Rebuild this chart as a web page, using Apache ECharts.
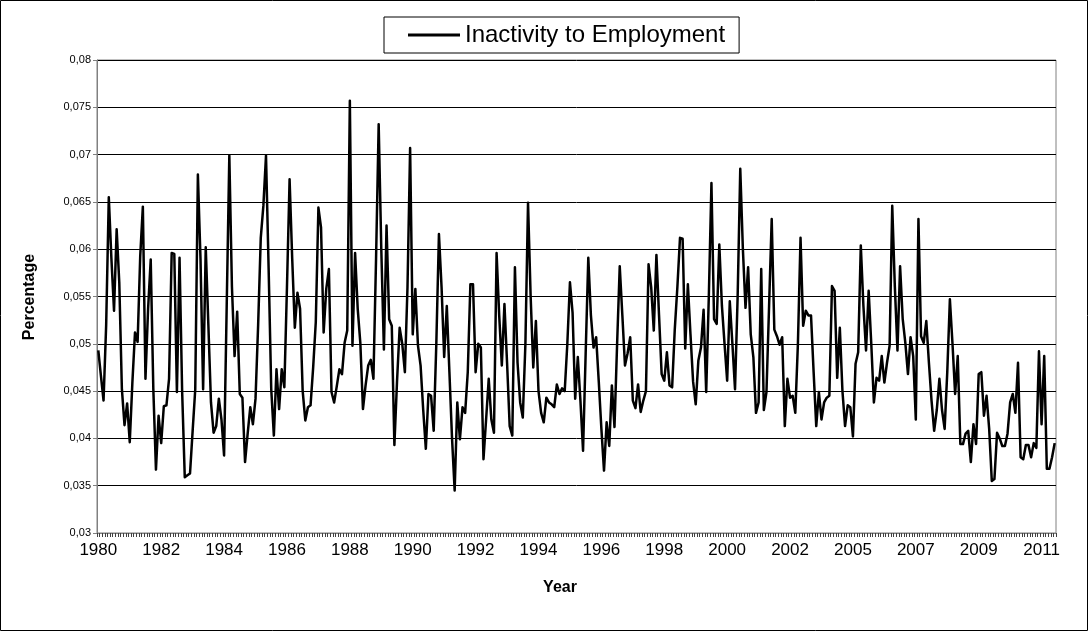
<!DOCTYPE html>
<html>
<head>
<meta charset="utf-8">
<title>Inactivity to Employment</title>
<script src="https://cdn.jsdelivr.net/npm/echarts@6/dist/echarts.min.js"></script>
<style>
  html, body { margin: 0; padding: 0; background: #fff; }
  #chart { width: 1091px; height: 633px; }
</style>
</head>
<body>
<div id="chart"></div>
<script>
// Year labels shown every 24 monthly observations
const tickLabels = ['1980', '1982', '1984', '1986', '1988', '1990', '1992', '1994',
  '1996', '1998', '2000', '2002', '2005', '2007', '2009', '2011'];
const labelStep = 24;

// Monthly transition rate from inactivity to employment
const inactivityToEmployment = [
  0.0493, 0.0466, 0.0440, 0.0520, 0.0655, 0.0590, 0.0535, 0.0621, 0.0565, 0.0452,
  0.0414, 0.0437, 0.0396, 0.0459, 0.0512, 0.0502, 0.0593, 0.0645, 0.0463, 0.0537,
  0.0589, 0.0452, 0.0367, 0.0424, 0.0395, 0.0434, 0.0435, 0.0463, 0.0596, 0.0595,
  0.0449, 0.0591, 0.0449, 0.0359, 0.0361, 0.0363, 0.0408, 0.0452,
  0.0679, 0.0590, 0.0452, 0.0602, 0.0520, 0.0438, 0.0406, 0.0413, 0.0442, 0.0420,
  0.0382, 0.0540, 0.0699, 0.0560, 0.0487, 0.0534, 0.0447, 0.0443, 0.0375, 0.0405,
  0.0433, 0.0415, 0.0442, 0.0520, 0.0612, 0.0646, 0.0699, 0.0580, 0.0452,
  0.0403, 0.0473, 0.0431, 0.0473, 0.0454, 0.0560, 0.0674, 0.0590, 0.0517, 0.0554,
  0.0537, 0.0450, 0.0419, 0.0433, 0.0435, 0.0475, 0.0523, 0.0644, 0.0623, 0.0512,
  0.0558, 0.0579, 0.0449, 0.0438, 0.0455, 0.0473, 0.0468, 0.0501, 0.0514, 0.0757,
  0.0498, 0.0596, 0.0537, 0.0501, 0.0431, 0.0456, 0.0477,
  0.0483, 0.0463, 0.0590, 0.0732, 0.0600, 0.0494, 0.0625, 0.0526, 0.0519, 0.0393,
  0.0460, 0.0517, 0.0500, 0.0470, 0.0560, 0.0707, 0.0510, 0.0558, 0.0498, 0.0477,
  0.0430, 0.0389, 0.0447, 0.0445, 0.0408, 0.0500, 0.0616, 0.0560, 0.0486, 0.0540,
  0.0470, 0.0400, 0.0345,
  0.0438, 0.0399, 0.0433, 0.0427, 0.0470, 0.0563, 0.0563, 0.0470, 0.0500, 0.0496,
  0.0378, 0.0420, 0.0463, 0.0420, 0.0406, 0.0596, 0.0530, 0.0477, 0.0542, 0.0480,
  0.0413, 0.0403, 0.0581, 0.0480, 0.0438, 0.0422, 0.0500, 0.0649, 0.0550, 0.0475,
  0.0524, 0.0450, 0.0427, 0.0417, 0.0443,
  0.0438, 0.0436, 0.0433, 0.0457, 0.0447, 0.0453, 0.0450, 0.0500, 0.0565, 0.0533,
  0.0442, 0.0486, 0.0440, 0.0387, 0.0490, 0.0591, 0.0530, 0.0496, 0.0507, 0.0460,
  0.0410, 0.0366, 0.0417, 0.0392, 0.0456, 0.0412, 0.0500, 0.0582, 0.0530, 0.0477,
  0.0490, 0.0507, 0.0440, 0.0432, 0.0457,
  0.0428, 0.0440, 0.0450, 0.0584, 0.0560, 0.0514, 0.0594, 0.0530, 0.0468, 0.0461,
  0.0491, 0.0456, 0.0454, 0.0515, 0.0560, 0.0612, 0.0611, 0.0495, 0.0563, 0.0510,
  0.0460, 0.0436, 0.0482, 0.0496, 0.0536, 0.0449, 0.0550, 0.0670, 0.0526, 0.0521,
  0.0605, 0.0540, 0.0500,
  0.0461, 0.0545, 0.0500, 0.0452, 0.0550, 0.0685, 0.0600, 0.0538, 0.0581, 0.0510,
  0.0486, 0.0427, 0.0438, 0.0579, 0.0430, 0.0449, 0.0540,
  0.0632, 0.0515, 0.0508, 0.0499, 0.0507, 0.0413, 0.0463, 0.0443, 0.0445, 0.0427,
  0.0500, 0.0612, 0.0519, 0.0535, 0.0530, 0.0530, 0.0470, 0.0413, 0.0449,
  0.0420, 0.0438, 0.0443, 0.0445, 0.0561, 0.0556, 0.0464, 0.0517, 0.0450, 0.0413,
  0.0435, 0.0433, 0.0402, 0.0479, 0.0491, 0.0604, 0.0540, 0.0493, 0.0556, 0.0500,
  0.0438, 0.0464, 0.0461, 0.0487, 0.0459, 0.0480, 0.0498, 0.0646, 0.0560, 0.0493,
  0.0582, 0.0526, 0.0501,
  0.0468, 0.0507, 0.0487, 0.0420, 0.0632, 0.0508, 0.0501, 0.0524, 0.0480, 0.0440,
  0.0408, 0.0430, 0.0463, 0.0430, 0.0410, 0.0470, 0.0547, 0.0500, 0.0447, 0.0487,
  0.0394, 0.0394, 0.0405, 0.0408, 0.0375, 0.0415, 0.0394, 0.0468, 0.0470, 0.0424,
  0.0445, 0.0410, 0.0355, 0.0357, 0.0406, 0.0400, 0.0392, 0.0392, 0.0405, 0.0438,
  0.0447, 0.0427, 0.0480,
  0.0380, 0.0378, 0.0393, 0.0393, 0.0380, 0.0395, 0.0390, 0.0492, 0.0415, 0.0487,
  0.0368, 0.0368, 0.0380, 0.0395
];

// One category per observation; only every 24th carries a year label
const categories = inactivityToEmployment.map((_, i) => String(i));

const FONT = 'Arial, "Liberation Sans", sans-serif';

const chart = echarts.init(document.getElementById('chart'), null, { renderer: 'canvas' });

chart.setOption({
  backgroundColor: '#ffffff',
  animation: false,
  grid: {
    left: 97,
    right: 35,
    top: 60,
    bottom: 100,
    show: true,
    backgroundColor: '#ffffff',
    borderColor: '#808080',
    borderWidth: 1
  },
  legend: {
    data: ['Inactivity to Employment'],
    top: 17,
    left: 384,
    itemWidth: 52,
    itemHeight: 3,
    itemGap: 8,
    icon: 'rect',
    padding: [6, 14, 6, 24],
    borderColor: '#000',
    borderWidth: 1,
    backgroundColor: '#fff',
    textStyle: { fontFamily: FONT, fontSize: 24, color: '#000' }
  },
  xAxis: {
    type: 'category',
    data: categories,
    boundaryGap: true,
    axisLine: { lineStyle: { color: '#808080', width: 1 } },
    axisTick: { show: true, interval: 0, length: 4, lineStyle: { color: '#404040' } },
    axisLabel: {
      interval: (index) => index % labelStep === 0,
      formatter: (value, index) => tickLabels[index / labelStep] || '',
      fontFamily: FONT,
      fontSize: 17,
      color: '#000',
      margin: 9
    },
    splitLine: { show: false }
  },
  yAxis: {
    type: 'value',
    min: 0.03,
    max: 0.08,
    interval: 0.005,
    axisLine: { show: true, lineStyle: { color: '#808080', width: 1 } },
    axisTick: { show: true, length: 4, lineStyle: { color: '#808080' } },
    axisLabel: {
      formatter: (v) => String(+v.toFixed(3)).replace('.', ','),
      fontFamily: FONT,
      fontSize: 11,
      color: '#000',
      margin: 6
    },
    splitLine: { show: true, lineStyle: { color: '#000', width: 1 } }
  },
  series: [{
    name: 'Inactivity to Employment',
    type: 'line',
    data: inactivityToEmployment,
    showSymbol: false,
    symbol: 'none',
    lineStyle: { color: '#000', width: 2.5, join: 'round' },
    itemStyle: { color: '#000' }
  }],
  graphic: [
    {
      type: 'rect',
      shape: { x: 0.5, y: 0.5, width: 1087, height: 630 },
      style: { fill: 'none', stroke: '#000', lineWidth: 1 },
      silent: true, z: -1
    },
    {
      type: 'text',
      x: 30, y: 297,
      rotation: Math.PI / 2,
      style: {
        text: 'Percentage', fontFamily: FONT, fontSize: 16, fontWeight: 'bold',
        fill: '#000', align: 'center', verticalAlign: 'middle'
      }
    },
    {
      type: 'text',
      x: 560, y: 588,
      style: {
        text: 'Year', fontFamily: FONT, fontSize: 16, fontWeight: 'bold',
        fill: '#000', align: 'center', verticalAlign: 'middle'
      }
    }
  ]
});
</script>
</body>
</html>
